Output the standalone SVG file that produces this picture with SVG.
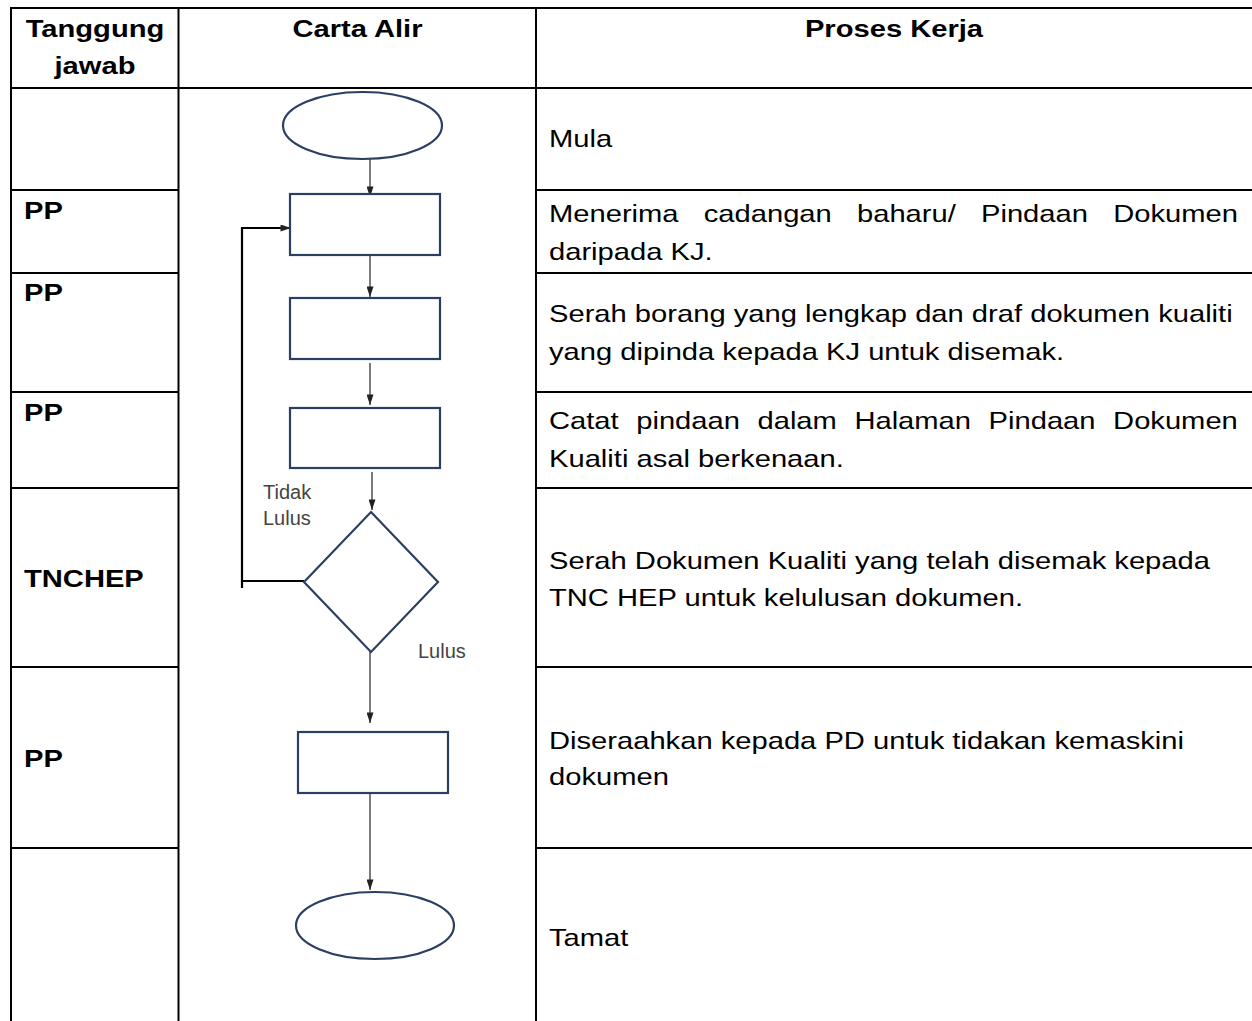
<svg xmlns="http://www.w3.org/2000/svg" width="1252" height="1021" viewBox="0 0 1252 1021">
<defs>
<style>
.grid{stroke:#000;stroke-width:2;fill:none}
.t{font-family:"Liberation Sans",Arial,sans-serif;font-size:24px;fill:#000}
.b{font-weight:bold}
.shape{fill:#fff;stroke:#2b3f63;stroke-width:2.2}
.conn{stroke:#5a5a5a;stroke-width:1.6;fill:none}
.fb{stroke:#000;stroke-width:2.2;fill:none}
.lbl{font-family:"Liberation Sans",Arial,sans-serif;font-size:20px;fill:#444}
</style>
<marker id="ah" viewBox="0 0 12 8" refX="12" refY="4" markerWidth="12" markerHeight="7" orient="auto" markerUnits="userSpaceOnUse">
<path d="M0,0 L12,4 L0,8 z" fill="#222"/>
</marker>
</defs>
<rect width="1252" height="1021" fill="#fff"/>
<g id="table" class="grid">
<line x1="11" y1="8" x2="1252" y2="8"/>
<line x1="11" y1="88" x2="1252" y2="88"/>
<path d="M11,190 H179 M536,190 H1252"/>
<path d="M11,273 H179 M536,273 H1252"/>
<path d="M11,392 H179 M536,392 H1252"/>
<path d="M11,488 H179 M536,488 H1252"/>
<path d="M11,667 H179 M536,667 H1252"/>
<path d="M11,848 H179 M536,848 H1252"/>
<line x1="11" y1="7" x2="11" y2="1021"/>
<line x1="178.5" y1="7" x2="178.5" y2="1021"/>
<line x1="536" y1="7" x2="536" y2="1021"/>
</g>
<g id="texts" transform="scale(1.215 1)">
<g id="headers" class="t b" text-anchor="middle">
<text x="78.2" y="37">Tanggung</text>
<text x="78.2" y="74">jawab</text>
<text x="294.2" y="37">Carta Alir</text>
<text x="735.8" y="37">Proses Kerja</text>
</g>
<g id="roles" class="t b">
<text x="19.75" y="219">PP</text>
<text x="19.75" y="301">PP</text>
<text x="19.75" y="421">PP</text>
<text x="19.75" y="587">TNCHEP</text>
<text x="19.75" y="767">PP</text>
</g>
<g id="process" class="t">
<text x="451.85" y="147">Mula</text>
<text y="222"><tspan x="451.85">Menerima</tspan> <tspan x="579.23">cadangan</tspan> <tspan x="705.34">baharu/</tspan> <tspan x="807.42">Pindaan</tspan> <tspan x="916.18">Dokumen</tspan></text>
<text x="451.85" y="260">daripada KJ.</text>
<text x="451.85" y="322">Serah borang yang lengkap dan draf dokumen kualiti</text>
<text x="451.85" y="360">yang dipinda kepada KJ untuk disemak.</text>
<text y="429"><tspan x="451.85">Catat</tspan> <tspan x="523.63">pindaan</tspan> <tspan x="623.44">dalam</tspan> <tspan x="703.21">Halaman</tspan> <tspan x="813.65">Pindaan</tspan> <tspan x="916.13">Dokumen</tspan></text>
<text x="451.85" y="467">Kualiti asal berkenaan.</text>
<text x="451.85" y="569">Serah Dokumen Kualiti yang telah disemak kepada</text>
<text x="451.85" y="606">TNC HEP untuk kelulusan dokumen.</text>
<text x="451.85" y="749">Diseraahkan kepada PD untuk tidakan kemaskini</text>
<text x="451.85" y="785">dokumen</text>
<text x="451.85" y="946">Tamat</text>
</g>
</g>
<g id="connectors">
<line class="conn" x1="370" y1="159" x2="370" y2="197" marker-end="url(#ah)"/>
<line class="conn" x1="370" y1="256" x2="370" y2="297" marker-end="url(#ah)"/>
<line class="conn" x1="370" y1="363" x2="370" y2="405" marker-end="url(#ah)"/>
<line class="conn" x1="372" y1="472" x2="372" y2="510" marker-end="url(#ah)"/>
<line class="conn" x1="370" y1="642" x2="370" y2="723" marker-end="url(#ah)"/>
<line class="conn" x1="370" y1="793" x2="370" y2="890" marker-end="url(#ah)"/>
<path class="fb" d="M304,581 H242 V228 H291" marker-end="url(#ah)"/>
<line class="fb" x1="242" y1="581" x2="242" y2="588"/>
</g>
<g id="start"><ellipse class="shape" cx="362.5" cy="125.5" rx="79.5" ry="33.5"/></g>
<g id="step1"><rect class="shape" x="290" y="194" width="150" height="61"/></g>
<g id="step2"><rect class="shape" x="290" y="298" width="150" height="61"/></g>
<g id="step3"><rect class="shape" x="290" y="408" width="150" height="60"/></g>
<g id="decision"><polygon class="shape" points="371,512 438,582 371,652 304,582"/></g>
<g id="step4"><rect class="shape" x="298" y="732" width="150" height="61"/></g>
<g id="end"><ellipse class="shape" cx="375" cy="925.5" rx="79" ry="33.5"/></g>
<g id="labels" class="lbl">
<text x="263" y="499">Tidak</text>
<text x="263" y="525">Lulus</text>
<text x="418" y="658">Lulus</text>
</g>
</svg>
